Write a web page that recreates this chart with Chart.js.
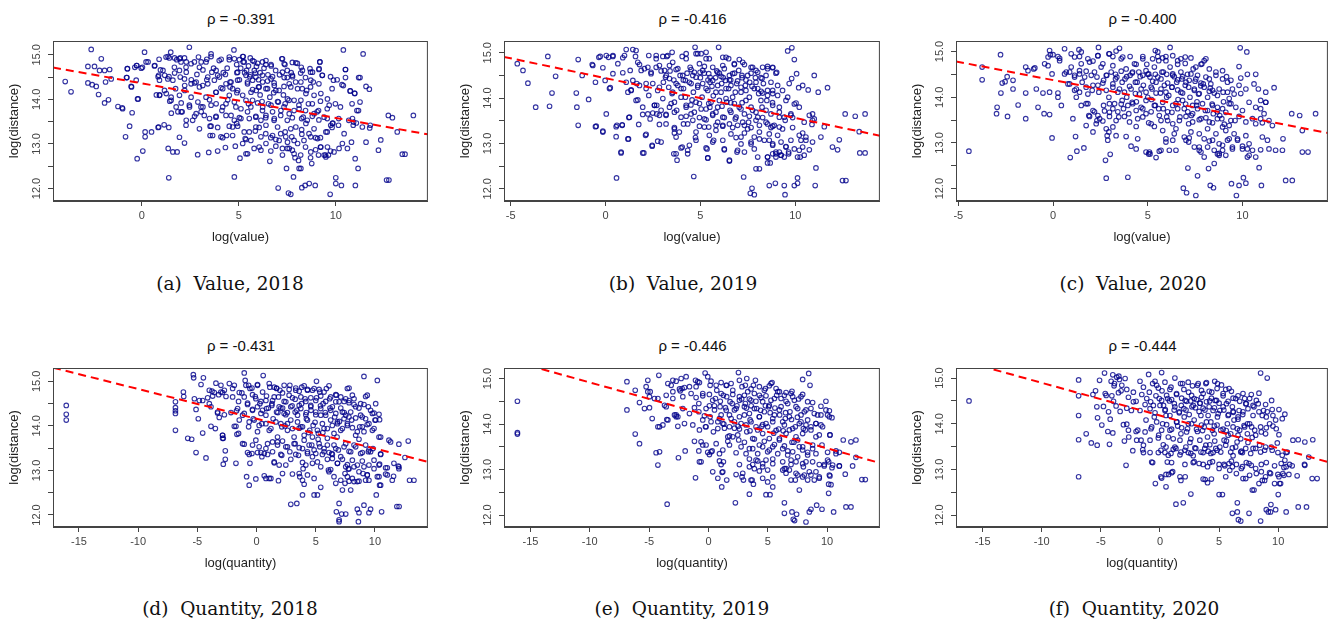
<!DOCTYPE html>
<html>
<head>
<meta charset="utf-8">
<script src="https://cdn.jsdelivr.net/npm/chart.js@4.4.0/dist/chart.umd.min.js"></script>
<style>
  body { margin:0; background:#fff; }
  #fig { position:relative; width:1331px; height:623px; overflow:hidden; background:#fff; }
  #fig canvas { position:absolute; }
  .rho { position:absolute; font:15px "Liberation Sans", Arial, sans-serif; color:#111; transform:translate(-50%,-50%); white-space:nowrap; }
  .cap { position:absolute; font:18.5px "DejaVu Serif", serif; color:#111; transform:translate(-50%,-50%); white-space:pre; }
</style>
</head>
<body>
<div id="fig"></div>
<script>
/* ── scatter points [log x, log(distance)] ──
   *Pts  = first pass (edges and outliers), *Core = second pass over the dense middle */
const valuePts2018 = [
  [-3.95,14.40],[-3.65,14.17],[-2.61,15.12],[-2.78,14.74],[-2.44,14.74],[-2.78,14.37],[-2.56,14.33],[-2.35,14.29],[-2.09,14.91],[-2.18,14.65],
  [-1.92,14.65],[-2.23,14.11],[-1.92,13.92],[-1.72,13.99],[-1.87,14.39],[-1.66,14.67],[-1.58,14.46],[-1.23,13.84],[-1.01,13.81],[-0.50,13.70],
  [-0.63,13.40],[-0.84,13.16],[-0.77,14.49],[-0.74,14.69],[-0.55,14.29],[-0.26,14.76],[-0.29,14.43],[-0.22,14.01],[-0.24,12.67],[0.05,12.84],
  [0.14,15.06],[0.17,13.27],[0.17,13.16],[0.22,14.84],[-0.03,14.70],[0.50,13.27],[0.65,14.75],[0.84,13.37],[1.15,13.43],[0.96,14.66],
  [0.91,14.43],[1.18,14.54],[1.39,13.37],[1.36,12.90],[1.39,12.24],[1.49,15.06],[1.60,12.82],[1.82,12.82],[1.94,13.15],[2.20,13.02],
  [2.45,15.17],[2.20,14.93],[2.88,12.76],[3.45,12.81],[3.91,12.84],[4.75,15.11],[4.77,12.26],[5.06,12.68],[6.60,12.61],[7.03,12.01],
  [7.46,12.45],[7.56,11.90],[7.68,11.87],[7.82,12.26],[8.25,12.02],[8.42,12.07],[8.63,12.11],[8.94,12.07],[9.71,11.87],[10.0,12.24],
  [10.0,12.11],[10.29,12.07],[11.01,12.07],[11.15,12.45],[10.39,15.11],[11.41,15.02],[10.5,14.67],[11.25,14.49],[11.56,14.29],[11.73,14.23],
  [10.74,14.19],[10.98,14.13],[11.25,13.94],[11.17,13.75],[10.86,13.57],[10.9,13.42],[11.06,13.47],[11.37,13.38],[11.75,13.36],[11.56,13.04],
  [12.32,13.09],[12.2,12.86],[12.71,13.64],[12.92,13.59],[13.17,13.27],[13.43,12.77],[13.57,12.77],[12.62,12.19],[12.74,12.19],[14.0,13.64],
  [10.43,13.23],[10.34,13.01],[10.17,12.90],[10.6,12.90],[10.81,13.04],[11.0,12.67],[9.91,12.82],[9.57,12.93],[9.4,12.75],[9.88,14.43],
  [10.14,13.42],[9.83,13.46],[10.39,14.31],
  [1.25,14.95],[1.42,14.93],[1.8,14.89],[1.94,14.91],[2.02,14.84],[1.68,14.72],[1.94,14.65],[2.28,14.72],[2.54,14.80],[2.71,14.84],
  [2.97,14.72],[3.31,14.84],[3.57,15.02],[3.7,14.70],[3.99,14.87],[4.51,14.89],[4.77,14.91],[5.03,14.89],[5.2,14.96],[5.28,14.84],
  [5.71,14.87],[5.97,14.81],[6.4,14.87],[6.66,14.78],[7.22,14.91],[7.34,14.80],[7.94,14.82],[8.28,14.65],[8.8,14.61],[9.18,14.84],
  [9.14,14.69],[9.31,14.54],
  [0.87,14.54],[1.34,14.46],[1.6,14.43],[2.2,14.46],[2.54,14.35],[2.8,14.39],[3.14,14.31],[3.4,14.50],[3.74,14.43],[3.91,14.54],
  [4.08,14.26],[4.34,14.35],[4.55,14.39],[4.68,14.24],[4.94,14.43],[5.37,14.54],[5.45,14.35],[5.71,14.43],[5.88,14.50],[6.02,14.28],
  [6.23,14.39],[6.4,14.24],[6.66,14.46],[6.83,14.31],[7.08,14.20],[7.34,14.49],[7.6,14.35],[7.77,14.51],[8.03,14.24],[8.2,14.39],
  [8.46,14.13],[8.71,14.43],[8.88,14.09],[9.23,14.13],[9.57,14.01],[5.63,14.16],[5.2,14.09],[4.51,14.09],[3.82,14.16],[3.31,14.05],
  [2.54,14.05],[1.94,14.09],[1.51,14.05],[0.91,14.09],[1.17,14.20],
  [1.51,13.98],[1.77,13.83],[2.08,13.72],[2.45,13.87],[2.8,13.68],[3.05,13.83],[3.22,13.64],[3.57,13.87],[3.82,13.60],[4.13,13.75],
  [4.34,13.90],[4.6,13.64],[4.85,13.83],[5.11,13.57],[5.45,13.72],[5.71,13.98],[5.88,13.60],[6.23,13.83],[6.4,13.64],[6.66,13.87],
  [6.83,13.57],[7.17,13.75],[7.39,13.90],[7.6,13.68],[7.85,13.98],[8.11,13.79],[8.32,13.60],[8.59,13.90],[8.88,13.68],[9.11,13.75],
  [9.4,13.60],[9.66,13.87],[7.51,14.01],[8.2,13.98],
  [0.87,13.38],[2.28,13.42],[2.62,13.53],[2.97,13.34],[3.52,13.40],[3.65,13.19],[4.08,13.16],[4.37,13.19],[4.68,13.38],[4.89,13.46],
  [5.33,13.12],[5.54,13.27],[5.88,13.38],[6.14,13.16],[6.4,13.42],[6.74,13.19],[7.0,13.38],[7.08,13.08],[7.39,13.27],[7.51,13.04],
  [7.73,13.16],[7.94,13.38],[8.03,13.01],[8.25,13.22],[8.46,13.46],[8.71,13.16],[8.88,13.34],[9.06,13.12],[9.23,12.93],[9.49,13.27],
  [9.74,13.42],
  [6.05,12.93],[6.4,13.01],[7.25,12.90],[7.6,12.90],[7.85,12.78],[8.08,12.63],[8.2,12.45],[8.71,12.82],[8.76,12.56],[9.11,12.75],
  [9.49,12.71],[9.62,12.75],[8.11,12.45],[5.2,13.01],[5.37,12.78],
  [4.2,14.6],[4.4,14.7],[4.9,14.6],[5.1,14.7],[5.3,14.6],[5.5,14.75],[5.6,14.55],[5.8,14.65],[6.1,14.6],[6.3,14.7],
  [6.5,14.55],[6.9,14.65],[7.1,14.55],[7.5,14.65],[7.7,14.6],[6.1,14.1],[6.6,14.05],[7.0,13.95],[6.2,13.95],[5.9,14.2],
  [4.9,14.15],[5.5,13.9],[6.8,14.15],[7.3,14.1],[8.5,14.2]
];
const valueCore2018 = [
  [0.32,14.84],[0.67,14.76],[0.89,14.90],[1.35,14.96],[1.69,14.93],[1.98,14.93],[2.29,14.84],[2.92,14.95],[3.06,14.84],[3.35,14.90],
  [3.57,14.96],[4.09,14.90],[4.51,14.95],[4.89,14.78],[5.23,14.96],[5.23,14.84],[5.59,14.93],[5.79,14.85],[5.91,14.74],[6.22,14.84],
  [6.39,14.78],[6.67,14.75],[7.25,14.91],[7.38,14.78],[7.76,14.83],[8.02,14.81],[8.22,14.72],[8.67,14.69],[9.18,14.84],[9.13,14.67],
  [10.5,14.67],[-0.27,14.76],[-0.75,14.69],[-0.36,14.72],[0.03,14.72],
  [-0.79,14.49],[-0.53,14.28],[0.84,14.51],[1.09,14.65],[1.40,14.51],[1.69,14.59],[1.98,14.50],[2.29,14.61],[2.55,14.44],[2.84,14.56],
  [3.15,14.66],[3.35,14.44],[3.61,14.61],[3.83,14.65],[4.0,14.50],[4.31,14.56],[4.60,14.39],[4.94,14.61],[5.03,14.44],[5.40,14.65],
  [5.57,14.51],[5.85,14.59],[6.02,14.44],[6.22,14.54],[6.48,14.41],[6.74,14.51],[6.82,14.37],[7.25,14.61],[7.50,14.49],[7.76,14.54],
  [7.93,14.39],[8.19,14.59],[8.44,14.49],[8.70,14.61],[8.84,14.39],[9.30,14.54],[9.73,14.51],[10.07,14.44],[10.5,14.49],[11.18,14.49],
  [10.32,14.33],[10.75,14.19],[10.97,14.14],[9.81,14.24],[9.13,14.35],[8.70,14.28],[8.27,14.24],[7.68,14.28],[7.33,14.29],[6.91,14.20],
  [6.48,14.24],[6.05,14.28],[5.71,14.22],[5.45,14.39],[4.94,14.20],[4.55,14.28],[4.17,14.24],[3.83,14.16],[3.40,14.35],[2.97,14.28],
  [2.72,14.37],[2.21,14.20],[1.74,14.24],[1.26,14.13],[0.92,14.10],[2.21,14.31],
  [-0.19,14.01],[-0.99,13.79],[0.75,14.10],[1.44,13.96],[2.03,13.92],[2.46,13.83],[2.89,13.94],[3.15,13.83],[3.49,13.99],[3.83,13.90],
  [4.17,13.83],[4.43,13.99],[4.77,13.94],[5.11,13.79],[5.37,13.98],[5.62,13.83],[5.97,13.92],[6.22,13.75],[6.53,13.90],[6.74,13.72],
  [7.04,13.94],[7.33,13.83],[7.59,13.98],[7.85,13.75],[8.10,13.87],[8.44,13.75],[8.79,13.90],[9.04,13.72],[9.21,13.96],[9.56,13.79],
  [9.98,13.90],[10.24,13.83],[10.84,13.90],[11.09,13.75],[2.29,13.53],[2.72,13.62],[3.06,13.72],[1.86,13.72],[1.52,13.69],[2.03,13.72],
  [3.49,13.57],[3.83,13.62],[4.34,13.64],[4.77,13.53],[5.03,13.59],[5.54,13.57],[5.88,13.62],[6.14,13.53],[6.39,13.59],[6.82,13.53],
  [7.16,13.64],[7.50,13.53],[7.76,13.59],[8.24,13.57],[8.53,13.53],[8.79,13.62],[9.13,13.54],[9.56,13.57],[9.85,13.47],[10.15,13.57],
  [10.67,13.53],[10.92,13.49],[11.78,13.42],
  [3.57,13.40],[3.52,13.19],[3.91,13.37],[4.17,13.14],[4.51,13.40],[4.68,13.19],[4.94,13.40],[5.28,13.27],[5.37,13.10],[5.62,13.08],
  [5.85,13.29],[6.05,13.37],[6.39,13.23],[6.65,13.14],[6.91,13.10],[7.16,13.23],[7.42,13.16],[7.68,13.34],[7.85,13.08],[8.24,13.32],
  [8.36,13.08],[8.62,13.23],[8.96,13.14],[9.21,13.14],[9.56,13.27],[9.81,13.37],[4.31,12.92],[4.82,12.95],[5.45,12.78],[5.79,12.90],
  [6.14,12.86],[6.65,12.84],[6.91,12.95],[7.25,12.75],[7.50,12.90],[7.76,12.86],[7.90,12.69],[8.19,12.75],[8.44,12.93],[8.70,12.69],
  [8.96,12.87],[9.21,12.93],[9.47,12.75],[9.73,12.84]
];

const valuePts2019 = [
  [-4.65,14.76],[-4.35,14.61],[-4.09,14.33],[-3.68,13.80],[-3.04,14.92],[-2.95,13.82],[-2.82,14.11],[-2.63,14.48],[-1.54,14.11],[-1.51,13.80],
  [-1.44,14.85],[-1.44,13.40],[-1.23,14.50],[-0.89,13.97],[-0.7,14.74],[-0.53,14.35],[-0.53,13.37],[-0.35,14.90],[-0.14,13.25],[-0.02,14.39],
  [0.04,13.65],[0.16,14.90],[0.25,14.23],[0.39,14.94],[0.56,13.37],[0.56,13.15],[0.58,12.24],[0.82,12.81],[0.88,13.40],[1.0,14.94],
  [1.09,15.07],[1.21,13.10],[1.23,13.57],[1.35,14.17],[1.44,15.07],[1.61,15.05],[1.75,13.42],[2.02,12.79],[2.14,13.20],[2.35,13.54],
  [2.46,12.94],[2.7,13.65],[2.93,13.03],[3.6,12.77],[3.77,12.63],[4.04,12.92],[4.33,12.77],[4.65,12.27],[4.74,13.13],[5.3,12.90],
  [5.39,12.68],[5.65,13.03],[6.26,12.86],[6.53,12.61],[5.96,15.12],[4.72,15.12],[6.93,12.81],[7.28,12.26],[7.32,13.23],[7.67,12.99],
  [7.72,12.01],[7.84,11.87],[7.63,11.90],[7.93,12.44],[8.11,12.44],[8.54,12.57],[8.63,12.07],[8.68,12.57],[8.95,12.12],[9.42,12.07],
  [9.46,11.87],[9.95,12.07],[10.12,12.24],[10.12,12.12],[11.05,12.07],[11.09,12.46],[9.6,15.04],[9.82,15.11],[9.95,14.85],[10.07,14.54],
  [9.81,14.43],[10.18,14.23],[10.39,14.28],[10.68,14.18],[11.0,14.50],[11.21,14.13],[11.7,14.23],[10.91,13.65],[11.0,13.54],[10.88,13.42],
  [11.35,13.14],[11.53,13.37],[11.96,12.92],[12.23,12.86],[12.32,13.08],[12.49,12.18],[12.67,12.18],[12.63,13.65],[13.16,13.60],[13.37,13.26],
  [13.4,12.79],[13.68,12.79],[13.68,13.65],[10.21,13.18],[10.39,12.92],[10.56,13.07],[10.74,12.86],[10.26,12.70],[9.77,13.07],[9.65,12.81],
  [9.42,12.70],[9.16,12.81],[8.98,12.70],[8.81,12.99],[9.16,13.36],[9.42,13.58],[9.77,13.65],[9.95,13.87],
  [1.7,14.79],[1.88,14.61],[2.23,14.68],[2.4,14.54],[2.67,14.87],[2.84,14.72],[3.11,14.61],[3.28,14.94],[3.37,14.43],[3.54,14.79],
  [3.81,14.65],[4.07,14.50],[4.25,14.87],[4.46,14.68],[4.68,14.57],[4.86,14.98],[4.95,14.76],[5.12,14.61],[5.3,14.87],[5.51,14.46],
  [5.65,14.68],[5.91,14.57],[6.18,14.72],[6.35,14.90],[6.53,14.50],[6.79,14.76],[7.02,14.61],[7.23,14.79],[7.49,14.50],[7.75,14.68],
  [8.02,14.57],[8.25,14.43],[8.54,14.65],[8.81,14.68],[9.02,14.57],
  [1.09,14.35],[1.44,14.39],[1.79,14.28],[2.14,14.21],[2.49,14.32],[2.75,14.17],[3.05,14.35],[3.33,14.24],[3.51,14.10],[3.72,14.32],
  [3.98,14.21],[4.21,14.02],[4.42,14.35],[4.63,14.13],[4.86,14.28],[5.09,14.02],[5.3,14.21],[5.51,14.35],[5.68,14.05],[5.91,14.28],
  [6.09,14.13],[6.32,14.39],[6.49,14.21],[6.7,14.02],[6.91,14.32],[7.14,14.13],[7.37,14.28],[7.58,14.02],[7.84,14.21],[8.07,14.10],
  [8.32,14.32],[8.54,14.06],[8.81,14.17],[9.07,14.06],[9.33,14.17],[9.6,14.02],
  [1.61,13.95],[1.96,13.80],[2.23,13.65],[2.58,13.84],[2.93,13.73],[3.19,13.62],[3.46,13.88],[3.75,13.73],[3.98,13.58],[4.25,13.84],
  [4.51,13.65],[4.77,13.91],[5.04,13.76],[5.21,13.54],[5.44,13.88],[5.65,13.65],[5.91,13.80],[6.18,13.58],[6.39,13.91],[6.61,13.69],
  [6.84,13.54],[7.05,13.80],[7.32,13.65],[7.54,13.47],[7.75,13.73],[8.02,13.58],[8.25,13.80],[8.46,13.47],[8.72,13.65],[8.89,13.40],
  [9.16,13.80],
  [3.63,13.32],[3.89,13.25],[4.33,13.43],[4.77,13.25],[5.21,13.36],[5.47,13.18],[5.82,13.29],[6.18,13.40],[6.61,13.21],[6.96,13.40],
  [7.14,13.14],[7.49,13.32],[7.84,13.14],[8.11,13.25],[8.37,13.07],[8.63,13.21],[8.81,12.77],[9.25,12.74],[9.51,12.93],[8.54,12.70],
  [8.98,12.81],
  [3.2,14.5],[3.4,14.6],[3.6,14.4],[4.1,14.4],[4.3,14.55],[4.6,14.5],[5.0,14.45],[5.2,14.55],[5.4,14.4],[5.8,14.45],
  [6.0,14.55],[6.2,14.45],[6.6,14.4],[6.8,14.55],[7.2,14.45],[7.6,14.35],[7.9,14.45],[8.2,14.15],[8.5,13.95],[6.0,13.95],
  [6.6,13.9],[7.2,13.9],[5.5,13.8],[4.5,13.85],[8.8,13.9]
];
const valueCore2019 = [
  [-0.28,14.92],[0.04,14.94],[0.39,14.92],[0.91,14.89],[1.58,14.92],[2.28,14.94],[2.67,14.94],[3.02,14.92],[3.23,14.92],[3.51,15.01],
  [4.04,14.92],[4.25,14.98],[4.77,14.98],[5.04,14.98],[5.30,15.01],[5.47,14.87],[6.18,14.90],[6.49,14.87],[6.79,14.74],[7.05,14.85],
  [7.32,14.74],[7.67,14.68],[7.93,14.61],[8.28,14.68],[8.54,14.70],[8.81,14.67],[8.98,14.55],[9.07,14.28],[9.68,14.32],
  [-0.67,14.72],[-0.14,14.67],[0.39,14.54],[0.65,14.76],[0.91,14.56],[1.30,14.61],[1.79,14.74],[2.05,14.65],[2.40,14.57],[2.67,14.68],
  [2.93,14.60],[3.16,14.46],[3.37,14.72],[3.72,14.63],[3.93,14.50],[4.21,14.39],[4.51,14.63],[4.77,14.46],[4.98,14.57],[5.21,14.70],
  [5.44,14.54],[5.65,14.39],[5.86,14.60],[6.09,14.48],[6.26,14.65],[6.53,14.40],[6.70,14.54],[6.96,14.38],[7.19,14.50],[7.40,14.40],
  [7.67,14.55],[7.93,14.35],[8.19,14.45],[8.46,14.50],[8.72,14.35],[0.21,14.21],[1.18,14.13],[1.35,14.18],[1.65,14.32],[2.14,14.32],
  [2.84,14.24],[3.54,14.13],[3.81,14.28],[4.11,14.21],[4.51,14.32],[4.86,14.24],[5.12,14.32],[5.39,14.17],[5.61,14.26],[5.82,14.13],
  [6.12,14.32],[6.35,14.21],[6.61,14.28],[6.84,14.13],[7.14,14.24],[7.40,14.17],[7.72,14.26],[8.02,14.21],[8.28,14.11],[8.54,14.17],
  [8.81,14.10],
  [1.70,13.96],[2.28,14.06],[2.58,13.84],[2.70,13.84],[3.02,13.99],[3.37,13.80],[3.63,13.91],[3.98,14.02],[4.25,13.80],[4.56,13.96],
  [4.68,13.69],[4.95,13.88],[5.30,13.76],[5.56,13.91],[5.82,13.69],[6.14,13.82],[6.35,13.99],[6.56,13.73],[6.79,13.88],[7.14,13.76],
  [7.40,13.95],[7.67,13.80],[7.93,13.69],[8.19,13.95],[8.46,13.73],[8.81,13.84],[9.16,13.69],[9.51,13.95],[9.77,13.62],[10.04,13.89],
  [10.21,13.80],[1.96,13.64],[2.49,13.67],[2.84,13.62],[3.19,13.64],[3.63,13.69],[4.25,13.60],[4.60,13.51],[4.95,13.57],[5.30,13.52],
  [5.65,13.62],[5.91,13.47],[6.26,13.57],[6.53,13.43],[6.88,13.58],[7.23,13.47],[7.58,13.60],[7.93,13.51],[8.28,13.57],[8.54,13.43],
  [8.81,13.38],[9.16,13.58],[9.47,13.51],[9.86,13.57],[10.47,13.47],[10.74,13.62],[10.91,13.51],[-0.14,13.27],[-0.49,13.38],[0.60,13.40],
  [0.88,13.41],[1.26,13.58],[2.84,13.42],[3.19,13.43],[3.63,13.35],[4.11,13.43],[4.95,13.38],[5.44,13.36],[5.82,13.40],[6.18,13.38],
  [6.70,13.35],[7.32,13.40],[7.67,13.35],[8.11,13.40],[8.72,13.35],[9.33,13.32],[9.86,13.35],[10.39,13.23],
  [1.18,13.10],[2.11,13.18],[2.46,12.96],[2.75,13.05],[3.63,13.23],[3.72,13.14],[3.98,12.90],[4.33,12.85],[4.42,12.96],[4.77,13.07],
  [5.35,12.88],[5.70,13.07],[6.18,13.07],[6.26,12.88],[6.88,13.13],[7.14,12.99],[7.67,13.03],[7.84,12.88],[8.11,13.10],[8.63,13.07],
  [8.81,12.96],[9.07,13.18],[9.25,13.03],[9.51,12.92],[9.65,12.77],[9.95,12.88],[10.21,12.85],[10.30,13.07],[10.56,13.14],[10.91,13.03],
  [10.47,12.74],[10.12,12.70],[9.25,12.74],[8.98,12.77],[8.54,12.70],[8.02,12.70],[7.32,12.81],[6.96,12.85],[6.53,12.63],[5.39,12.68],
  [3.72,12.77],[0.82,12.79],[1.96,12.79]
];

const valuePts2020 = [
  [-4.44,12.82],[-3.74,14.66],[-3.74,14.38],[-2.77,14.93],[-2.95,13.78],[-2.98,13.64],[-2.75,14.09],[-2.68,14.31],[-2.53,14.34],[-2.4,13.58],
  [-2.42,14.45],[-2.11,14.37],[-2.11,14.18],[-1.84,13.83],[-1.44,14.66],[-1.44,14.09],[-1.44,13.53],[-1.32,14.58],[-1.02,14.62],[-0.88,14.18],
  [-0.79,13.78],[-0.53,14.09],[-0.47,13.64],[-0.26,14.69],[-0.18,15.02],[-0.14,14.93],[-0.05,13.11],[-0.05,14.51],[0.26,14.0],[0.44,13.82],
  [0.35,14.85],[0.61,15.06],[0.91,12.68],[1.05,13.53],[1.26,12.82],[1.37,15.04],[1.19,13.14],[1.49,14.99],[1.63,12.89],[1.75,13.38],
  [1.89,13.60],[2.11,13.24],[2.4,15.09],[2.46,13.53],[2.77,12.62],[2.81,12.23],[2.86,13.16],[2.95,13.24],[3.02,12.75],[3.16,13.35],
  [3.33,13.16],[3.51,15.07],[3.86,13.14],[3.95,12.25],[4.12,12.93],[4.39,12.87],[4.47,13.09],[5.05,12.76],[5.12,12.76],[5.44,12.68],
  [5.61,12.82],[5.53,14.99],[5.7,12.84],[5.96,13.09],[6.14,12.84],[6.32,13.06],[6.4,13.20],[6.88,12.01],[7.05,11.91],[7.12,12.45],
  [7.16,13.02],[7.46,12.91],[7.54,11.85],[7.63,12.28],[7.81,12.80],[7.98,12.69],[8.21,12.44],[8.3,12.07],[8.47,12.02],[8.51,12.55],
  [8.68,12.76],[8.77,12.73],[9.12,12.73],[9.42,12.11],[9.68,11.85],[9.82,12.07],[10.05,12.24],[10.18,12.12],[11.0,12.07],[10.88,12.46],
  [9.88,15.08],[10.23,14.99],[9.82,14.67],[9.91,14.42],[10.18,14.18],[10.26,14.50],[10.61,14.29],[10.7,14.50],[10.84,14.18],[11.23,14.11],
  [11.67,14.21],[10.96,13.93],[11.23,13.89],[11.14,13.64],[10.96,13.53],[10.7,13.42],[11.05,13.13],[11.32,13.06],[11.58,13.38],[12.14,13.09],
  [12.11,12.84],[12.28,12.18],[12.63,12.18],[12.6,13.64],[13.02,13.60],[13.16,13.27],[13.16,12.80],[13.46,12.80],[13.86,13.64],[10.18,13.16],
  [10.35,12.98],[10.53,12.84],[10.26,12.69],[10.0,12.87],[9.74,13.06],[9.47,12.91],[9.3,13.09],[9.12,13.27],[8.77,12.98],[8.42,13.06],
  [0.7,14.55],[0.96,14.66],[1.14,14.48],[1.4,14.58],[1.67,14.44],[1.93,14.77],[2.19,14.55],[2.37,14.91],[2.54,14.66],[2.81,14.48],
  [2.98,14.95],[3.16,14.69],[3.37,14.44],[3.6,14.84],[3.86,14.62],[4.07,14.48],[4.3,14.73],[4.53,14.55],[4.74,14.84],[4.91,14.58],
  [5.12,14.44],[5.35,14.66],[5.58,14.80],[5.75,14.55],[5.96,14.89],[6.18,14.66],[6.32,14.48],[6.58,14.80],[6.75,14.55],[6.98,14.88],
  [7.19,14.37],[7.4,14.62],[7.63,14.48],[7.86,14.73],[8.07,14.84],[8.25,14.40],[8.6,14.55],[8.95,14.58],[9.16,14.45],[9.39,14.37],
  [0.79,14.29],[1.23,14.18],[1.54,14.33],[1.84,14.07],[2.11,14.26],[2.42,14.11],[2.67,14.37],[2.95,14.0],[3.16,14.22],[3.42,14.11],
  [3.65,14.33],[3.89,14.0],[4.12,14.18],[4.35,14.33],[4.56,14.07],[4.77,14.26],[5.0,14.0],[5.23,14.18],[5.44,14.33],[5.67,14.09],
  [5.88,14.26],[6.11,14.04],[6.28,14.22],[6.53,14.33],[6.75,14.11],[6.98,14.26],[7.23,14.0],[7.46,14.18],[7.68,14.07],[7.93,14.29],
  [8.16,14.0],[8.42,14.15],[8.68,14.04],[8.98,14.11],[9.3,13.97],[9.56,14.07],
  [1.75,13.86],[2.11,13.71],[2.37,13.60],[2.67,13.82],[2.98,13.67],[3.25,13.86],[3.47,13.57],[3.72,13.75],[4.0,13.64],[4.21,13.86],
  [4.47,13.53],[4.74,13.75],[4.91,13.64],[5.18,13.42],[5.35,13.82],[5.61,13.60],[5.82,13.75],[6.05,13.49],[6.28,13.67],[6.49,13.86],
  [6.7,13.57],[6.93,13.75],[7.16,13.42],[7.37,13.64],[7.58,13.82],[7.81,13.53],[8.04,13.71],[8.25,13.46],[8.46,13.64],[8.68,13.78],
  [8.91,13.53],[9.12,13.67],[9.39,13.86],[9.61,13.49],
  [5.79,13.27],[6.49,13.31],[6.93,13.13],[7.28,13.24],[7.72,13.20],[8.16,13.31],[8.6,13.20],[8.95,13.35],[9.3,13.38],[9.56,13.20],
  [8.95,12.84],[8.16,12.91],[7.72,12.91],
  [3.3,14.5],[3.8,14.4],[4.2,14.55],[4.6,14.45],[5.0,14.5],[5.4,14.5],[5.7,14.4],[6.0,14.5],[6.4,14.45],[6.8,14.4],
  [7.1,14.5],[7.5,14.35],[7.8,14.25],[8.3,14.2],[6.0,14.0],[6.6,13.95],[7.0,13.85],[7.6,13.9],[8.4,13.85],[5.2,13.95],
  [4.4,13.9],[3.6,13.85],[9.0,13.9],[8.8,13.6],[7.3,13.6]
];
const valueCore2020 = [
  [6.18,15.09],[5.40,15.02],[0,14.93],[0.26,14.89],[0.35,14.80],[-0.26,14.88],[-0.44,14.73],[0.96,14.95],[1.14,14.88],[1.40,14.89],
  [1.49,14.73],[1.84,14.84],[2.11,14.79],[2.37,14.91],[2.63,14.73],[2.95,14.95],[3.16,14.89],[3.33,15.01],[3.68,14.88],[4.07,14.89],
  [4.39,14.72],[4.74,14.89],[4.95,14.72],[5.26,14.84],[5.53,14.89],[5.79,14.86],[5.96,14.80],[6.32,14.91],[6.58,14.72],[6.75,14.84],
  [6.98,14.74],[7.28,14.86],[7.54,14.66],[7.81,14.72],[7.98,14.80],[-0.96,14.64],[8.25,14.62],
  [-0.18,14.11],[0.26,14.09],[0.61,14.51],[0.88,14.55],[1.14,14.44],[1.40,14.51],[1.75,14.57],[2.02,14.48],[2.32,14.44],[2.63,14.31],
  [2.84,14.48],[3.07,14.55],[3.30,14.40],[3.60,14.57],[3.89,14.45],[4.18,14.53],[4.44,14.33],[4.74,14.48],[5.05,14.51],[5.26,14.35],
  [5.53,14.44],[5.82,14.55],[6.05,14.31],[6.32,14.51],[6.58,14.38],[6.84,14.45],[7.02,14.33],[7.28,14.51],[7.54,14.40],[7.81,14.31],
  [8.07,14.44],[8.33,14.29],[8.60,14.48],[8.95,14.40],[9.21,14.33],[0.88,14.29],[1.14,14.15],[1.40,14.11],[1.75,14.22],[2.07,14.15],
  [2.37,14.26],[2.81,14.15],[3.16,14.29],[3.51,14.18],[3.77,14.11],[4.04,14.24],[4.35,14.08],[4.65,14.18],[4.91,14.11],[5.18,14.22],
  [5.44,14.09],[5.70,14.18],[5.96,14.11],[6.28,14.22],[6.58,14.16],[6.84,14.09],[7.16,14.22],[7.46,14.15],[7.72,14.08],[7.98,14.22],
  [8.25,14.13],[8.51,14.09],[8.77,14.18],[9.21,14.11],[9.47,14.18],[9.82,14.26],[9.91,14.08],
  [-0.18,13.62],[1.23,14.0],[1.49,13.82],[1.84,13.86],[1.93,13.58],[2.19,13.68],[2.32,13.49],[2.72,13.70],[2.98,13.86],[3.16,13.75],
  [3.42,13.68],[3.65,13.93],[3.95,13.82],[4.18,13.89],[4.39,13.71],[4.65,13.78],[4.91,13.93],[5.18,13.68],[5.40,13.82],[5.58,13.75],
  [5.79,13.89],[6.05,13.68],[6.32,13.82],[6.58,13.75],[6.84,13.93],[7.11,13.68],[7.37,13.82],[7.63,13.75],[7.89,13.86],[8.16,13.71],
  [8.42,13.82],[8.68,13.68],[8.95,13.75],[9.30,13.86],[9.65,13.78],[10.0,13.71],[10.35,13.89],[10.70,13.78],[10.96,13.75],[11.23,13.89],
  [2.28,13.42],[2.63,13.48],[2.98,13.58],[3.33,13.49],[3.77,13.58],[4.04,13.46],[4.39,13.36],[4.74,13.57],[5.05,13.44],[5.35,13.36],
  [5.70,13.49],[6.0,13.57],[6.32,13.42],[6.67,13.49],[7.02,13.58],[7.37,13.46],[7.72,13.51],[8.07,13.55],[8.42,13.44],[8.68,13.53],
  [9.04,13.41],[9.39,13.49],[9.82,13.58],[10.18,13.46],[10.53,13.53],[11.05,13.44],[11.40,13.49],
  [2.81,13.31],[2.89,13.06],[5.09,12.80],[5.96,13.02],[6.49,12.84],[7.02,13.06],[7.19,13.11],[7.72,12.84],[7.98,13.09],[8.25,13.04],
  [8.51,12.84],[8.77,12.77],[8.95,12.95],[9.21,13.06],[9.47,12.87],[9.74,13.09],[10.0,12.93],[10.26,12.87],[10.35,12.73],[10.70,12.69],
  [10.96,12.85],[11.40,12.87],[11.75,12.84],[4.91,12.80]
];

const qtyPts2018 = [
  [-16.07,14.46],[-16.07,14.26],[-16.07,14.13],[-6.85,14.54],[-6.85,14.41],[-6.85,14.34],[-6.85,14.28],[-6.85,13.90],[-6.18,14.76],[-6.15,14.66],
  [-5.81,13.72],[-5.48,13.70],[-5.34,15.15],[-5.31,15.08],[-5.11,14.37],[-5.11,13.40],[-4.92,14.16],[-4.83,14.57],[-4.69,14.93],[-4.55,13.84],
  [-4.49,15.08],[-4.27,13.28],[-3.99,14.50],[-3.85,13.99],[-3.76,14.78],[-3.48,13.94],[-3.43,14.96],[-3.29,14.29],[-3.15,14.19],[-3.01,14.76],
  [-2.87,13.79],[-2.81,13.72],[-2.81,13.14],[-2.64,13.44],[-2.64,13.25],[-2.58,14.66],[-2.3,14.95],[-2.02,14.84],[-1.74,13.99],[-1.74,13.16],
  [-1.66,13.81],[-1.52,14.55],[-1.04,15.19],[-1.04,13.59],[-0.84,12.86],[-0.62,12.67],[-0.56,13.16],[-0.39,13.38],[-0.06,12.81],[0.56,15.13],
  [0.65,12.88],[0.79,12.82],[1.21,12.82],[1.49,13.17],[1.85,12.77],[1.91,13.12],[2.89,12.24],[3.03,12.92],[3.4,12.26],[3.88,12.45],
  [4.16,13.12],[4.86,12.45],[5.14,12.45],[5.42,12.62],[6.07,13.01],[6.26,13.02],[6.74,12.07],[6.97,12.26],[6.97,11.89],[6.97,11.85],
  [7.19,12.02],[7.53,12.02],[7.25,12.56],[7.95,12.56],[8.51,12.13],[8.65,12.05],[8.6,11.85],[9.07,12.22],[9.49,12.05],[9.63,12.13],
  [9.07,15.11],[10.2,15.02],[9.21,14.66],[10.06,14.50],[9.44,14.43],[9.92,14.29],[10.34,14.26],[10.39,14.14],[10.0,14.13],[10.34,13.75],
  [9.92,13.94],[11.32,13.64],[12.02,13.59],[12.81,13.66],[11.04,13.06],[10.48,13.37],[10.39,13.14],[10.9,12.92],[10.2,12.86],[10.39,12.67],
  [10.56,12.07],[10.11,12.45],[11.57,12.87],[11.97,13.10],[11.85,12.19],[12.04,12.19],[12.53,13.29],[12.92,12.78],[13.29,12.78],[9.83,13.49],
  [9.44,13.42],[9.07,13.08],[8.65,12.97],[8.51,12.75],[8.09,12.82],[8.23,13.08],[7.81,13.04],[7.67,12.86],[7.47,12.71],[9.21,12.78],
  [9.35,12.90],
  [-2.02,14.65],[-1.69,14.34],[-1.24,14.74],[-0.9,14.91],[-0.76,14.51],[-0.56,14.84],[-0.34,14.37],[-0.11,14.66],[0.08,14.91],[0.28,14.5],
  [0.51,14.76],[0.79,14.57],[1.12,14.87],[1.49,14.65],[1.69,14.84],[1.91,14.43],[2.19,14.74],[2.47,14.54],[2.81,14.91],[3.03,14.63],
  [3.31,14.80],[3.6,14.46],[3.82,14.87],[4.1,14.61],[4.3,14.80],[4.58,14.46],[4.86,14.84],[5.06,14.63],[5.34,14.76],[5.62,14.50],
  [5.9,14.84],[6.18,14.61],[6.4,14.43],[6.74,14.69],[6.97,14.54],[7.25,14.31],[7.67,14.84],[7.81,14.57],[8.09,14.69],[8.37,14.43],
  [8.79,14.50],[8.93,14.2],
  [-1.46,14.13],[-1.04,14.28],[-0.67,13.98],[-0.28,14.16],[0.08,13.87],[0.45,14.05],[0.79,14.24],[1.07,13.90],[1.4,14.16],[1.77,13.75],
  [2.05,14.05],[2.33,14.28],[2.61,13.90],[2.89,14.13],[3.17,13.75],[3.46,14.24],[3.74,13.98],[4.02,13.79],[4.21,14.16],[4.49,13.90],
  [4.72,13.75],[4.94,14.08],[5.22,13.83],[5.42,14.24],[5.7,13.94],[5.98,13.72],[6.26,14.13],[6.54,13.83],[6.83,14.05],[7.11,13.90],
  [7.39,14.16],[7.67,14.01],[8.03,14.13],[8.37,13.79],[8.71,13.98],[9.07,13.87],[9.49,14.05],
  [0.22,13.53],[0.65,13.38],[0.93,13.60],[1.35,13.42],[1.77,13.64],[2.13,13.34],[2.47,13.53],[2.81,13.42],[3.26,13.60],[3.54,13.34],
  [3.88,13.49],[4.3,13.42],[4.66,13.57],[5.0,13.38],[5.34,13.53],[5.7,13.42],[5.98,13.57],[6.35,13.38],[6.69,13.49],[7.11,13.31],
  [7.53,13.60],[7.95,13.42],[8.37,13.53],[8.79,13.38],[9.21,13.57],[9.63,13.42],[7.53,13.08],[6.83,13.16],[6.4,13.27],[5.42,13.08],
  [4.72,13.16],[3.93,13.04],[3.65,12.86],
  [1.0,14.4],[1.3,14.5],[1.8,14.3],[2.2,14.4],[2.6,14.3],[3.0,14.45],[3.4,14.35],[3.8,14.5],[4.2,14.3],[4.6,14.35],
  [5.0,14.25],[5.4,14.45],[5.8,14.3],[6.2,14.4],[6.6,14.2],[7.0,14.1],[7.4,14.3],[7.8,14.2],[2.4,14.0],[3.6,13.95],
  [4.4,13.85],[5.2,13.7],[5.6,13.85],[6.8,13.75],[0.5,14.35]
];
const qtyCore2018 = [
  [-3.01,14.91],[-2.72,14.80],[-1.88,14.91],[-0.96,15.02],[-0.67,14.91],[-0.39,14.85],[0.08,14.93],[1.07,14.95],[1.49,14.87],[1.69,14.85],
  [1.97,14.80],[2.33,14.91],[2.75,14.82],[3.31,14.85],[3.60,14.78],[4.02,14.90],[4.30,14.82],[4.72,14.80],[5.06,15.0],[5.28,14.82],
  [5.70,14.76],[6.12,14.90],[6.69,14.70],[7.11,14.65],[7.53,14.61],[7.81,14.85],[8.23,14.61],[9.35,14.69],
  [-5.25,14.61],[-4.55,14.57],[-4.13,14.63],[-3.71,14.67],[-3.20,14.70],[-3.99,14.80],[-3.57,14.75],[-2.87,14.75],[-1.46,14.75],[-1.04,14.65],
  [-0.34,14.70],[-0.06,14.61],[0.37,14.55],[0.84,14.67],[1.35,14.57],[1.85,14.65],[2.33,14.55],[2.75,14.69],[3.26,14.60],[3.74,14.65],
  [4.16,14.55],[4.58,14.63],[5.0,14.57],[5.42,14.67],[5.84,14.55],[6.26,14.65],[6.69,14.54],[7.39,14.55],[7.81,14.52],[8.23,14.48],
  [8.65,14.40],[9.07,14.48],[9.63,14.35],
  [-3.85,14.43],[-3.29,14.31],[-2.72,14.25],[-2.16,14.30],[-1.60,14.39],[-1.18,14.24],[-0.76,14.48],[-0.34,14.35],[0.08,14.43],[0.37,14.28],
  [0.84,14.39],[1.29,14.46],[1.69,14.31],[2.05,14.40],[2.47,14.25],[2.89,14.43],[3.26,14.31],[3.74,14.39],[4.16,14.25],[4.58,14.43],
  [5.0,14.31],[5.42,14.39],[5.84,14.24],[6.26,14.35],[6.69,14.28],[7.11,14.40],[7.53,14.24],[7.95,14.31],[8.37,14.18],[8.79,14.24],
  [9.21,14.16],[9.78,14.28],[10.06,14.13],
  [-0.62,14.09],[-0.20,14.13],[0.22,14.01],[0.79,14.05],[1.21,13.94],[1.63,14.09],[2.13,13.98],[2.61,14.05],[3.03,13.94],[3.46,14.09],
  [3.88,13.98],[4.30,14.13],[4.78,14.01],[5.14,13.90],[5.56,14.05],[5.98,13.94],[6.40,14.01],[6.83,14.09],[7.25,13.94],[7.67,14.05],
  [8.09,13.96],[8.51,13.87],[8.93,13.98],[9.35,14.03],[9.78,13.90],[-2.87,13.79],[-1.88,13.99],[-1.52,13.83],
  [-2.87,13.72],[-1.18,13.60],[-0.76,13.40],[-0.34,13.57],[-0.06,13.68],[0.37,13.40],[0.79,13.49],[1.35,13.64],[1.77,13.57],[2.19,13.66],
  [2.61,13.53],[3.17,13.60],[3.60,13.51],[4.02,13.68],[4.44,13.57],[4.86,13.46],[5.28,13.60],[5.70,13.49],[6.12,13.40],[6.54,13.57],
  [6.91,13.46],[7.39,13.53],[7.81,13.43],[8.23,13.57],[8.65,13.70],[8.93,13.40],[9.49,13.46],[10.48,13.36],[10.48,13.75],[11.18,13.68],
  [-0.62,13.36],[0.08,13.40],[0.45,13.31],[0.93,13.36],[1.49,13.19],[2.05,13.36],[2.47,13.12],[2.89,13.25],[3.31,13.36],[3.88,13.18],
  [4.30,13.38],[4.72,13.31],[5.14,13.19],[5.56,13.36],[5.98,13.25],[6.40,13.36],[6.83,13.16],[7.25,13.25],[7.67,13.13],[8.09,13.23],
  [8.51,13.12],[8.93,13.21],[9.49,13.12],[9.92,13.23],[10.34,13.12],[10.90,13.06],[11.60,13.16],[12.02,13.08],
  [1.07,12.82],[2.19,12.93],[3.60,12.93],[3.88,12.78],[4.02,12.69],[4.30,12.90],[4.86,12.82],[6.12,12.97],[6.54,12.86],[6.69,12.71],
  [7.11,12.78],[7.47,12.93],[7.75,13.03],[7.81,12.76],[8.23,12.75],[8.65,12.76],[8.99,12.93],[9.35,12.90],[9.49,12.78],[9.92,13.04],
  [10.34,12.86],[10.48,12.67],[11.04,12.90],[11.46,12.78],[12.02,13.04]
];

const qtyPts2019 = [
  [-16.1,14.50],[-16.1,13.81],[-16.1,13.78],[-6.87,14.93],[-6.87,14.31],[-6.17,14.74],[-6.17,13.78],[-5.81,13.57],[-5.81,14.47],[-5.39,14.34],
  [-5.25,14.82],[-5.11,14.71],[-4.97,14.36],[-4.74,14.12],[-4.55,14.56],[-4.41,13.37],[-4.26,13.10],[-4.12,13.39],[-4.12,13.94],[-4.18,15.07],
  [-3.84,13.98],[-3.7,14.41],[-3.48,12.24],[-3.51,14.10],[-3.42,14.89],[-3.14,14.85],[-3.0,14.96],[-2.72,14.20],[-2.58,13.95],[-2.53,13.26],
  [-2.38,14.73],[-2.22,14.78],[-1.96,13.41],[-1.88,15.04],[-1.09,14.96],[-1.09,12.82],[-0.76,13.17],[-0.62,13.17],[-0.81,13.41],[-0.28,15.12],
  [-0.06,15.04],[0.79,12.81],[1.12,12.62],[1.21,12.95],[1.26,13.17],[2.27,12.27],[2.33,12.89],[2.83,12.84],[2.95,12.77],[3.45,12.46],
  [3.68,12.77],[3.79,12.68],[4.85,12.45],[5.19,12.45],[4.99,12.73],[5.42,12.62],[6.4,12.27],[6.4,12.04],[7.04,12.07],[7.15,11.91],
  [7.26,11.88],[7.43,12.02],[7.66,12.55],[8.22,11.85],[8.45,15.11],[8.56,14.85],[7.94,14.98],[8.5,12.07],[8.64,12.13],[9.12,12.22],
  [9.57,12.13],[10.13,12.48],[10.55,12.07],[9.9,14.50],[10.19,14.29],[10.41,14.14],[10.04,14.20],[9.48,14.39],[8.78,14.47],[9.2,14.20],
  [9.62,13.94],[10.24,13.76],[10.75,13.35],[11.36,13.65],[12.01,13.61],[12.43,13.65],[11.03,13.08],[10.13,13.17],[10.24,12.86],[10.13,12.68],
  [11.53,12.90],[12.15,13.08],[11.59,12.18],[12.01,12.18],[12.43,13.27],[12.93,12.78],[13.22,12.78],[9.76,13.08],[9.34,12.84],[8.92,12.77],
  [8.5,12.95],[8.08,12.88],[7.52,12.88],[7.32,12.77],[8.0,13.06],[6.82,12.99],[6.4,13.02],[6.96,13.21],[7.66,13.50],
  [-1.04,14.82],[-0.81,14.45],[-0.48,14.67],[-0.2,14.34],[0.14,14.85],[0.36,14.52],[0.7,14.74],[0.98,14.38],[1.26,14.63],[1.54,14.85],
  [1.82,14.49],[2.05,14.74],[2.33,14.34],[2.61,14.60],[2.83,14.82],[3.11,14.45],[3.31,14.71],[3.59,14.52],[3.79,14.85],[4.07,14.34],
  [4.29,14.63],[4.57,14.49],[4.8,14.78],[5.08,14.38],[5.27,14.89],[5.56,14.56],[5.84,14.71],[6.12,14.38],[6.4,14.63],[6.68,14.45],
  [6.96,14.67],[7.24,14.52],[7.52,14.34],[7.8,14.60],[8.08,14.27],[8.36,14.09],
  [-0.48,14.09],[-0.2,13.94],[0.14,14.16],[0.42,13.83],[0.79,14.05],[1.07,14.20],[1.35,13.91],[1.63,13.72],[1.91,14.12],[2.19,13.91],
  [2.47,13.76],[2.75,14.01],[3.03,14.20],[3.23,13.83],[3.51,14.09],[3.73,13.68],[4.01,13.94],[4.29,14.16],[4.57,13.79],[4.85,14.01],
  [5.13,13.68],[5.42,14.12],[5.7,13.86],[5.98,13.68],[6.26,14.05],[6.54,13.79],[6.82,14.16],[7.1,13.90],[7.38,13.72],[7.66,14.01],
  [7.94,13.79],[8.22,13.98],[8.64,13.87],[9.06,14.01],[9.34,13.76],
  [-0.2,13.54],[0.22,13.39],[0.65,13.57],[1.21,13.43],[1.77,13.54],[2.33,13.37],[2.75,13.50],[3.17,13.35],[3.73,13.46],[4.15,13.35],
  [4.57,13.50],[4.99,13.39],[5.42,13.50],[5.84,13.35],[6.26,13.46],[6.68,13.32],[7.1,13.39],[7.52,13.28],[7.94,13.43],[8.36,13.32],
  [8.78,13.46],[9.06,13.35],[5.42,13.13],[4.01,13.21],[3.45,13.06],[4.57,13.06],
  [0.5,14.4],[1.0,14.5],[1.5,14.3],[2.0,14.45],[2.4,14.4],[2.8,14.55],[3.2,14.35],[3.6,14.4],[4.0,14.5],[4.4,14.3],
  [4.8,14.4],[5.2,14.25],[5.6,14.35],[6.0,14.2],[6.5,14.25],[7.0,14.1],[7.5,14.15],[1.3,14.0],[2.5,13.95],[3.5,13.85],
  [4.5,13.95],[5.5,13.8],[6.3,13.85],[7.2,13.6],[8.0,13.9]
];
const qtyCore2019 = [
  [-5.11,14.96],[-4.91,14.71],[-2.72,14.94],[-2.30,15.0],[-3.0,14.71],[-2.44,14.77],[-2.02,14.80],[-1.60,14.82],[-0.90,14.93],[-0.76,14.91],
  [0.22,14.94],[0.65,14.85],[1.07,14.91],[1.49,14.85],[1.91,14.89],[2.53,15.13],[2.61,14.96],[3.11,14.85],[3.23,15.0],[3.96,14.96],
  [3.59,14.77],[4.29,14.82],[4.71,14.74],[5.13,14.84],[5.36,14.91],[5.70,14.78],[5.98,14.71],[6.54,14.69],[7.04,14.72],
  [-4.97,14.60],[-4.26,14.56],[-3.56,14.63],[-3.0,14.56],[-2.16,14.60],[-1.46,14.67],[-1.04,14.58],[-0.48,14.62],[0.08,14.65],[0.59,14.56],
  [1.07,14.67],[1.54,14.60],[2.05,14.65],[2.61,14.52],[3.03,14.63],[3.45,14.55],[3.87,14.67],[4.43,14.58],[4.85,14.62],[5.27,14.52],
  [5.75,14.63],[6.12,14.56],[6.54,14.50],[7.10,14.60],[7.60,14.55],[7.94,14.65],[8.36,14.49],
  [-3.56,14.38],[-2.86,14.20],[-2.58,14.16],[-2.16,14.34],[-1.60,14.23],[-1.18,14.36],[-0.81,14.27],[-0.34,14.18],[0.08,14.40],[0.51,14.31],
  [0.93,14.12],[1.43,14.36],[1.77,14.20],[2.19,14.31],[2.61,14.16],[3.03,14.38],[3.45,14.23],[3.87,14.34],[4.29,14.16],[4.71,14.27],
  [5.13,14.41],[5.56,14.20],[5.98,14.31],[6.48,14.12],[6.87,14.27],[7.38,14.38],[7.80,14.20],[8.22,14.31],[8.64,14.34],[8.92,14.23],
  [9.48,14.20],[9.90,14.31],[10.19,14.16],
  [-3.42,14.09],[-2.72,14.16],[-2.02,14.01],[-1.32,13.98],[-0.76,13.87],[-0.25,13.94],[0.22,14.05],[0.79,13.90],[1.21,14.01],[1.77,13.94],
  [2.19,14.05],[2.61,13.89],[3.17,13.98],[3.59,14.05],[4.15,13.87],[4.57,13.99],[4.99,13.94],[5.42,14.05],[5.92,13.89],[6.40,13.98],
  [6.82,13.87],[7.32,13.94],[7.80,14.05],[8.16,13.87],[8.64,13.94],[9.06,14.01],[9.48,13.98],[10.24,13.76],[-4.26,13.94],
  [-1.18,13.62],[-0.62,13.61],[-0.48,13.54],[-0.06,13.38],[0.31,13.41],[0.93,13.35],[1.63,13.62],[1.77,13.74],[2.05,13.72],[2.55,13.65],
  [3.03,13.60],[3.45,13.46],[3.87,13.67],[4.29,13.54],[4.71,13.62],[5.13,13.43],[5.56,13.55],[5.98,13.65],[6.40,13.52],[6.68,13.41],
  [7.04,13.60],[7.52,13.65],[7.94,13.50],[8.36,13.38],[8.78,13.54],[9.06,13.72],[9.57,13.54],[10.04,13.38],[10.75,13.41],[11.03,13.38],
  [0.08,13.33],[0.93,13.19],[1.07,13.11],[2.61,13.11],[3.45,13.23],[3.73,13.11],[4.15,13.19],[4.57,13.13],[4.85,13.21],[5.42,13.23],
  [6.26,13.17],[6.54,13.02],[6.96,13.11],[7.38,13.17],[7.94,13.13],[8.22,13.17],[8.78,13.17],[9.34,13.11],[9.76,13.11],[10.04,13.21],
  [10.47,13.10],[11.03,13.08],
  [0.36,12.95],[1.15,12.94],[1.54,12.77],[2.89,12.92],[3.59,12.77],[3.87,13.02],[4.29,12.97],[4.57,12.81],[4.99,12.99],[5.42,12.84],
  [6.26,12.99],[6.54,12.92],[6.96,12.77],[7.38,12.92],[7.94,12.84],[8.36,12.77],[8.64,12.88],[9.06,12.95],[9.34,12.81],[10.19,12.88],
  [10.33,12.67],[10.41,13.04]
];

const qtyPts2020 = [
  [-16.15,14.50],[-6.88,14.96],[-6.88,14.61],[-6.88,14.18],[-6.88,13.65],[-6.88,12.84],[-6.24,13.78],[-5.81,13.58],[-5.67,14.64],[-5.45,14.72],
  [-5.31,13.53],[-5.11,14.95],[-4.78,14.38],[-4.69,15.11],[-4.55,14.62],[-4.41,13.83],[-4.27,13.55],[-4.21,14.10],[-4.13,14.93],[-3.99,13.80],
  [-3.85,14.88],[-3.71,14.39],[-3.48,15.04],[-3.29,14.72],[-3.01,13.62],[-2.87,13.09],[-2.81,13.99],[-2.64,13.71],[-2.42,14.29],[-2.3,13.41],
  [-1.88,13.86],[-1.6,13.64],[-1.46,13.43],[-0.96,15.08],[-0.62,13.15],[-0.39,12.69],[0.08,12.84],[0.51,12.62],[0.51,12.89],[0.73,12.89],
  [1.07,12.95],[1.35,12.24],[1.97,12.27],[2.13,12.84],[1.77,12.76],[2.61,12.46],[3.82,12.78],[4.02,12.71],[5.0,12.45],[5.28,12.45],
  [6.12,12.04],[6.54,12.27],[6.54,12.07],[6.63,11.90],[6.83,11.87],[7.53,12.04],[8.51,11.87],[8.99,12.12],[9.16,12.07],[9.35,12.07],
  [9.38,12.23],[9.78,12.12],[10.67,12.07],[10.0,12.45],[8.51,15.11],[9.07,15.0],[8.37,14.67],[9.44,14.51],[8.93,14.42],[9.07,14.26],
  [9.49,14.31],[10.06,14.31],[10.34,14.11],[10.56,14.21],[9.78,14.08],[9.83,13.89],[10.06,13.76],[9.92,13.58],[10.76,13.38],[11.69,13.65],
  [12.25,13.60],[12.92,13.65],[10.34,13.31],[10.56,13.20],[10.48,13.04],[11.18,13.08],[10.48,12.87],[10.06,12.84],[10.2,12.69],[10.9,12.89],
  [11.6,12.86],[12.25,13.09],[12.58,13.27],[12.87,12.80],[13.29,12.80],[11.69,12.18],[12.39,12.18],[9.35,12.91],[8.93,12.84],[8.65,12.76],
  [8.37,12.69],[7.95,12.55],[7.81,12.55],[7.25,12.80],[6.97,13.06],[7.53,13.13],[8.09,13.02],[6.12,13.06],[5.84,13.13],[5.42,13.11],
  [-0.9,14.69],[-0.56,14.40],[-0.28,14.84],[-0.06,14.55],[0.17,14.72],[0.45,14.31],[0.65,14.55],[0.93,14.80],[1.21,14.44],[1.4,14.66],
  [1.63,14.26],[1.91,14.88],[2.13,14.51],[2.42,14.69],[2.7,14.37],[2.89,14.55],[3.17,14.84],[3.37,14.45],[3.65,14.66],[3.88,14.88],
  [4.16,14.37],[4.38,14.69],[4.66,14.51],[4.86,14.88],[5.06,14.29],[5.34,14.66],[5.62,14.44],[5.84,14.77],[6.12,14.37],[6.4,14.55],
  [6.69,14.29],[7.02,14.66],[7.25,14.44],[7.58,14.55],[7.95,14.37],[8.31,14.44],[8.65,14.18],
  [-1.18,14.08],[-0.76,13.89],[-0.48,14.15],[-0.11,13.75],[0.22,14.0],[0.51,14.18],[0.84,13.86],[1.12,13.67],[1.43,14.04],[1.77,13.78],
  [2.05,14.15],[2.33,13.89],[2.61,13.67],[2.89,14.08],[3.17,13.83],[3.46,14.18],[3.74,13.93],[4.02,13.71],[4.3,14.04],[4.58,13.78],
  [4.86,14.15],[5.14,13.86],[5.42,13.64],[5.7,14.0],[5.98,13.78],[6.26,14.08],[6.54,13.89],[6.83,13.67],[7.11,13.96],[7.39,13.78],
  [7.75,13.93],[8.09,13.75],[8.51,13.93],[8.93,13.78],[9.27,14.0],
  [0.08,13.42],[0.51,13.49],[0.93,13.35],[1.35,13.46],[1.77,13.38],[2.19,13.49],[2.61,13.35],[3.03,13.46],[3.46,13.38],[3.88,13.53],
  [4.3,13.35],[4.72,13.46],[5.14,13.38],[5.56,13.53],[5.98,13.38],[6.4,13.49],[6.83,13.38],[7.25,13.46],[7.67,13.35],[8.09,13.46],
  [8.51,13.38],[8.93,13.49],[9.49,13.42],[3.31,13.13],[2.89,13.17],[4.02,13.06],[4.44,13.17],[5.0,13.02],
  [0.3,14.4],[0.8,14.5],[1.2,14.3],[1.8,14.4],[2.2,14.3],[2.6,14.5],[3.0,14.35],[3.4,14.45],[3.8,14.3],[4.2,14.5],
  [4.6,14.35],[5.0,14.45],[5.4,14.3],[5.8,14.2],[6.2,14.25],[6.6,14.1],[7.0,14.2],[7.4,14.0],[1.5,13.95],[2.4,14.0],
  [3.6,13.85],[4.6,13.95],[5.6,13.85],[6.6,13.75],[7.8,13.7]
];
const qtyCore2020 = [
  [-3.99,15.07],[-3.65,15.02],[-3.43,14.97],[-3.88,14.83],[-3.23,14.84],[-2.95,14.99],[-2.81,14.75],[-2.25,14.69],[-1.69,14.93],[-1.40,14.80],
  [-0.62,14.88],[-0.42,14.93],[-0.14,14.78],[0.14,15.12],[0.42,14.91],[0.84,14.75],[1.26,15.0],[1.74,14.88],[2.02,14.75],[2.39,14.91],
  [2.75,14.83],[3.23,14.88],[3.51,14.73],[3.93,14.90],[4.16,14.71],[4.63,14.93],[4.83,14.77],[5.20,14.85],[5.56,14.75],[6.04,14.71],
  [6.60,14.61],[7.16,14.55],[7.72,14.64],[8.15,14.51],
  [-4.63,14.66],[-4.07,14.61],[-3.51,14.68],[-2.67,14.58],[-2.02,14.49],[-1.54,14.64],[-1.12,14.55],[-0.79,14.48],[-0.34,14.61],[0.14,14.51],
  [0.56,14.62],[0.98,14.53],[1.40,14.64],[1.83,14.56],[2.25,14.49],[2.67,14.62],[3.09,14.53],[3.51,14.58],[3.93,14.48],[4.35,14.56],
  [4.78,14.51],[5.34,14.61],[5.76,14.49],[6.18,14.56],[6.74,14.49],[7.30,14.44],[7.87,14.40],
  [-5.34,14.37],[-3.93,14.49],[-4.35,14.26],[-3.37,14.27],[-2.81,14.34],[-2.25,14.48],[-1.69,14.29],[-1.26,14.42],[-0.84,14.33],[-0.42,14.24],
  [0,14.40],[0.42,14.29],[0.84,14.18],[1.26,14.37],[1.63,14.24],[2.02,14.33],[2.47,14.20],[2.81,14.40],[3.31,14.27],[3.65,14.34],
  [4.07,14.18],[4.49,14.29],[4.92,14.22],[5.34,14.37],[5.76,14.18],[6.18,14.27],[6.60,14.15],[7.02,14.26],[7.44,14.33],[7.87,14.18],
  [8.37,14.26],[8.76,14.29],[8.99,14.15],[9.55,14.18],
  [-3.09,13.98],[-2.67,13.86],[-2.02,13.83],[-1.26,13.82],[-0.70,13.93],[-0.28,14.04],[0.14,13.86],[0.56,13.98],[0.98,13.88],[1.40,14.04],
  [1.83,13.91],[2.25,13.82],[2.67,14.0],[3.09,13.88],[3.51,13.97],[3.93,14.04],[4.44,13.86],[4.83,13.97],[5.34,13.88],[5.76,13.75],
  [6.18,13.93],[6.74,13.86],[7.16,13.93],[7.58,14.0],[8.01,13.86],[8.57,13.82],[8.99,13.91],[9.55,13.95],[-5.28,14.13],[-4.92,13.97],
  [-1.97,13.64],[-1.40,13.53],[-0.84,13.64],[-0.14,13.69],[0.28,13.54],[0.70,13.71],[1.26,13.49],[1.69,13.64],[2.11,13.42],[2.53,13.59],
  [2.95,13.47],[3.37,13.64],[3.79,13.46],[4.21,13.54],[4.63,13.62],[5.06,13.49],[5.62,13.62],[6.12,13.47],[6.52,13.60],[6.97,13.37],
  [7.44,13.59],[7.87,13.46],[8.43,13.53],[8.85,13.42],[9.41,13.49],[9.97,13.37],[10.67,13.37],[11.24,13.64],
  [-1.40,13.37],[-0.84,13.37],[-0.14,13.37],[0.42,13.37],[0.70,13.31],[1.12,13.44],[1.69,13.32],[2.39,13.37],[2.81,13.30],[3.65,13.37],
  [4.07,13.40],[4.49,13.37],[4.83,13.42],[6.18,13.30],[6.88,13.40],[-0.70,13.16],[0.62,13.16],[0.98,13.15],[2.11,13.11],[2.81,13.15],
  [3.65,13.11],[4.21,13.15],[5.0,13.11],[5.48,13.08],[6.04,13.18],[6.46,13.11],[7.30,13.15],[7.72,13.09],[8.57,13.11],[8.99,13.15],
  [9.69,13.08],[10.25,13.13],[10.96,13.11],[12.22,13.11],
  [0.14,12.81],[0.98,12.93],[1.69,12.84],[3.65,12.79],[4.35,12.79],[5.56,12.84],[5.90,12.98],[6.46,12.91],[6.88,13.02],[7.02,12.80],
  [7.58,12.87],[8.15,12.91],[8.57,12.95],[8.85,12.76],[9.27,12.93],[9.69,12.69],[9.97,12.89],[10.11,12.69],[10.39,12.91],[10.67,13.06]
];

/* ── per-panel labels, axis limits, ticks and fitted line ── */
const panelPoints = [
  valuePts2018.concat(valueCore2018), valuePts2019.concat(valueCore2019), valuePts2020.concat(valueCore2020),
  qtyPts2018.concat(qtyCore2018), qtyPts2019.concat(qtyCore2019), qtyPts2020.concat(qtyCore2020)
];
const rhoLabels   = ['-0.391', '-0.416', '-0.400', '-0.431', '-0.446', '-0.444'];
const xTitles     = ['log(value)', 'log(value)', 'log(value)', 'log(quantity)', 'log(quantity)', 'log(quantity)'];
const yTitle      = 'log(distance)';
const captions    = ['(a)  Value, 2018', '(b)  Value, 2019', '(c)  Value, 2020',
                     '(d)  Quantity, 2018', '(e)  Quantity, 2019', '(f)  Quantity, 2020'];
const xLimits     = [[-4.58,14.75], [-5.35,14.46], [-5.12,14.51], [-17.19,14.47], [-17.23,14.45], [-17.25,14.2]];
const yLimits     = [[11.72,15.31], [11.73,15.26], [11.73,15.23], [11.73,15.30], [11.74,15.23], [11.74,15.22]];
const xTickVals   = [[0,5,10], [-5,0,5,10], [-5,0,5,10], [-15,-10,-5,0,5,10], [-15,-10,-5,0,5,10], [-15,-10,-5,0,5,10]];
const yTickVals   = [12, 12.5, 13, 13.5, 14, 14.5, 15];
const yLabelVals  = [12, 13, 14, 15];
const fitIntercepts = [14.36, 14.44, 14.375, 14.16, 14.19, 14.18];
const fitSlopes     = [-0.0776, -0.0878, -0.0797, -0.0668, -0.0723, -0.0716];

/* ── page layout (plot boxes: left, top, right, bottom) ── */
const BOXES = [[53,41,429,201],[504,41,881,201],[956,41,1329,201],
               [53,368,429,527],[504,368,881,527],[956,368,1329,527]];
const CAP_POS = [[230,283],[683,283],[1133,283],[230,608],[682,608],[1134,608]];
const AX_L = 50, AX_B = 50, PAD_T = 10, PAD_R = 4;
const FONT = '"Liberation Sans", Arial, sans-serif';
const AXIS_COL = '#444';

Chart.defaults.font.family = FONT;

const boxPlugin = {
  id:'boxPlugin',
  afterDraw(chart) {
    const {ctx, chartArea:a, scales:{y}} = chart;
    ctx.save();
    ctx.strokeStyle = AXIS_COL; ctx.lineWidth = 1;
    ctx.strokeRect(a.left + 0.5, a.top + 0.5, a.right - a.left - 1, a.bottom - a.top - 1);
    // R-style y labels, parallel to the axis
    ctx.font = '11px ' + FONT; ctx.fillStyle = AXIS_COL;
    ctx.textAlign = 'center'; ctx.textBaseline = 'middle';
    yLabelVals.forEach(v => {
      ctx.save();
      ctx.translate(a.left - 16, y.getPixelForValue(v));
      ctx.rotate(-Math.PI / 2);
      ctx.fillText(v.toFixed(1), 0, 0);
      ctx.restore();
    });
    ctx.restore();
  }
};

function buildPanel(i) {
  const fig = document.getElementById('fig');
  const [L, T, R, B] = BOXES[i];

  const rho = document.createElement('div');
  rho.className = 'rho';
  rho.textContent = '\u03C1 = ' + rhoLabels[i];
  rho.style.left = ((L + R) / 2) + 'px'; rho.style.top = (T - 23) + 'px';
  fig.appendChild(rho);

  const cap = document.createElement('div');
  cap.className = 'cap';
  cap.textContent = captions[i];
  cap.style.left = CAP_POS[i][0] + 'px'; cap.style.top = CAP_POS[i][1] + 'px';
  fig.appendChild(cap);

  const cv = document.createElement('canvas');
  const w = R - L + AX_L + PAD_R, h = B - T + PAD_T + AX_B;
  cv.width = w; cv.height = h;
  cv.style.width = w + 'px'; cv.style.height = h + 'px';
  cv.style.left = (L - AX_L) + 'px'; cv.style.top = (T - PAD_T) + 'px';
  fig.appendChild(cv);

  const [x0, x1] = xLimits[i];
  const fitLine = [x0, x1].map(x => ({ x, y: fitIntercepts[i] + fitSlopes[i] * x }));

  new Chart(cv, {
    type:'scatter',
    data:{
      datasets:[
        { type:'line', data:fitLine, borderColor:'#ff0000', borderWidth:2, borderDash:[8,5],
          pointRadius:0, fill:false, clip:0 },
        { data:panelPoints[i].map(([x, y]) => ({ x, y })), pointStyle:'circle', pointRadius:2.3,
          borderWidth:1.1, borderColor:'rgba(0,0,139,0.8)', backgroundColor:'rgba(0,0,0,0)' }
      ]
    },
    options:{
      responsive:false, animation:false, devicePixelRatio:1,
      layout:{ padding:{ top:PAD_T, right:PAD_R, left:0, bottom:0 } },
      plugins:{ legend:{display:false}, tooltip:{enabled:false} },
      scales:{
        x:{
          type:'linear', min:x0, max:x1,
          afterBuildTicks: s => { s.ticks = xTickVals[i].map(v => ({ value:v })); },
          afterFit: s => { s.height = AX_B; },
          grid:{ drawOnChartArea:false, drawTicks:true, tickLength:5, color:AXIS_COL },
          border:{ color:AXIS_COL },
          ticks:{ color:AXIS_COL, font:{ size:11 }, padding:3, maxRotation:0, callback: v => String(v) },
          title:{ display:true, text:xTitles[i], color:'#222', font:{ size:13 }, padding:{ top:0, bottom:6 } }
        },
        y:{
          type:'linear', min:yLimits[i][0], max:yLimits[i][1],
          afterBuildTicks: s => { s.ticks = yTickVals.map(v => ({ value:v })); },
          afterFit: s => { s.width = AX_L; },
          grid:{ drawOnChartArea:false, drawTicks:true, tickLength:5, color:AXIS_COL },
          border:{ color:AXIS_COL },
          ticks:{ display:false },
          title:{ display:true, text:yTitle, color:'#222', font:{ size:13 }, padding:{ top:4, bottom:0 } }
        }
      }
    },
    plugins:[boxPlugin]
  });
}

for (let i = 0; i < 6; i++) buildPanel(i);
</script>
</body>
</html>
